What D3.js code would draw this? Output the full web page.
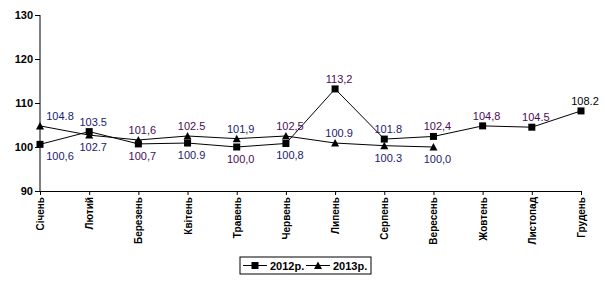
<!DOCTYPE html>
<html>
<head>
<meta charset="utf-8">
<script src="https://cdn.jsdelivr.net/npm/d3@7"></script>
<style>
  body { margin: 0; background: #fff; }
  text { font-family: Arial, "Liberation Sans", sans-serif; }
</style>
</head>
<body>
<script>
const months = ['Січень', 'Лютий', 'Березень', 'Квітень', 'Травень', 'Червень',
  'Липень', 'Серпень', 'Вересень', 'Жовтень', 'Листопад', 'Грудень']

const values2012 = [100.6, 103.5, 100.7, 100.9, 100.0, 100.8, 113.2, 101.8, 102.4, 104.8, 104.5, 108.2]
const labels2012 = ['100,6', '103.5', '100,7', '100.9', '100,0', '100,8', '113,2', '101.8', '102,4', '104,8', '104.5', '108.2']

const values2013 = [104.8, 102.7, 101.6, 102.5, 101.9, 102.5, 100.9, 100.3, 100.0]
const labels2013 = ['104.8', '102.7', '101,6', '102.5', '101,9', '102,5', '100.9', '100.3', '100,0']

const yTicks = [90, 100, 110, 120, 130]

const width = 605
const height = 287
const navy = '#1a1a6e'
const purple = '#4a0a55'

// label colours, as they show in the picture
const colors2012 = [navy, navy, purple, navy, purple, navy, purple, navy, purple, purple, purple, '#000']
const colors2013 = [navy, navy, purple, purple, navy, purple, navy, navy, navy]

const svg = d3.select('body')
  .append('svg')
  .attr('width', width)
  .attr('height', height)

const x = d3.scalePoint()
  .domain(months)
  .range([40, 581])

const y = d3.scaleLinear()
  .domain([90, 130])
  .range([191, 15])

// y axis
svg.append('g')
  .attr('transform', 'translate(40,0)')
  .call(d3.axisLeft(y).tickValues(yTicks).tickSize(5).tickPadding(2))
  .call(g => g.select('.domain').attr('stroke', '#000').attr('d', 'M0,15V191'))
  .call(g => g.selectAll('text')
    .attr('font-size', 11)
    .attr('font-weight', 'bold')
    .attr('fill', '#000'))

// x axis
svg.append('g')
  .attr('transform', 'translate(0,191)')
  .call(d3.axisBottom(x).tickSize(4).tickSizeOuter(0))
  .call(g => g.select('.domain').attr('stroke', '#000'))
  .call(g => g.selectAll('text')
    .attr('font-size', 10)
    .attr('font-weight', 'bold')
    .attr('fill', '#000')
    .attr('text-anchor', 'end')
    .attr('transform', 'rotate(-90)')
    .attr('x', -6)
    .attr('y', 0)
    .attr('dy', '0.35em'))

const line = d3.line()
  .x((d, i) => x(months[i]))
  .y(d => y(d))

const drawSeries = (values, marker) => {
  svg.append('path')
    .datum(values)
    .attr('fill', 'none')
    .attr('stroke', '#000')
    .attr('stroke-width', 1)
    .attr('d', line)

  svg.append('g')
    .selectAll('path')
    .data(values)
    .enter()
    .append('path')
    .attr('transform', (d, i) => `translate(${x(months[i])},${y(d)})`)
    .attr('d', marker)
    .attr('fill', '#000')
}

const square = 'M-3.5,-3.5H3.5V3.5H-3.5Z'
const triangle = 'M0,-4L4,3.5H-4Z'

drawSeries(values2012, square)
drawSeries(values2013, triangle)

// data labels: higher value above, lower one below, both above if far apart
const placeLabel = (v, other) => {
  if (other === undefined) return 'above'
  if (Math.abs(v - other) > 5) return 'above'
  return v >= other ? 'above' : 'below'
}

const drawLabels = (values, labels, colors, others) => {
  svg.append('g')
    .selectAll('text')
    .data(values)
    .enter()
    .append('text')
    .attr('x', (d, i) => x(months[i]) + (i === 0 ? 20 : 4))
    .attr('y', (d, i) => y(d) + (placeLabel(d, others[i]) === 'above' ? -6 : 16))
    .attr('text-anchor', 'middle')
    .attr('font-size', 11)
    .attr('fill', (d, i) => colors[i])
    .text((d, i) => labels[i])
}

drawLabels(values2012, labels2012, colors2012, values2013)
drawLabels(values2013, labels2013, colors2013, values2012)

// legend
const legend = svg.append('g')
  .attr('transform', 'translate(240,257)')

legend.append('rect')
  .attr('width', 131)
  .attr('height', 17)
  .attr('fill', '#fff')
  .attr('stroke', '#000')

const entries = [
  { name: '2012р.', marker: square, x: 3 },
  { name: '2013р.', marker: triangle, x: 66 }
]

entries.forEach(e => {
  legend.append('line')
    .attr('x1', e.x).attr('x2', e.x + 24)
    .attr('y1', 8.5).attr('y2', 8.5)
    .attr('stroke', '#000')
  legend.append('path')
    .attr('transform', `translate(${e.x + 12},8.5)`)
    .attr('d', e.marker)
    .attr('fill', '#000')
  legend.append('text')
    .attr('x', e.x + 27)
    .attr('y', 12.5)
    .attr('font-size', 11)
    .attr('font-weight', 'bold')
    .text(e.name)
})
</script>
</body>
</html>
